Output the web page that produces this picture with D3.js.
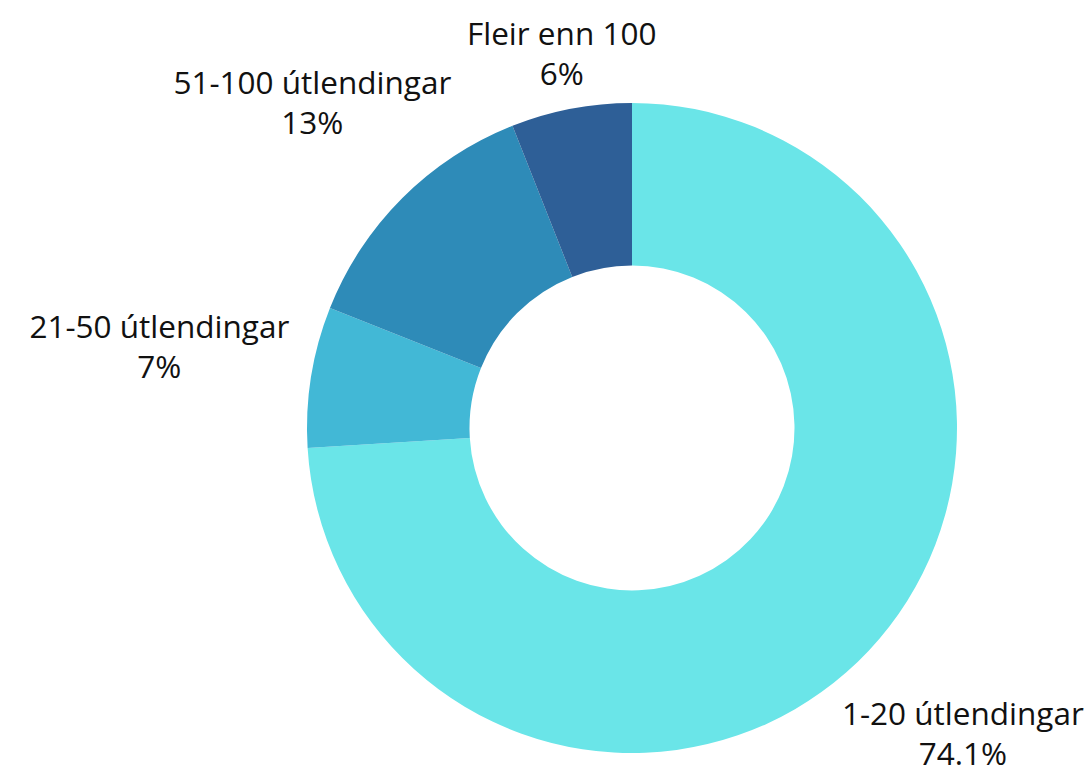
<!DOCTYPE html>
<html>
<head>
<meta charset="utf-8">
<script src="https://cdn.jsdelivr.net/npm/d3@7"></script>
<style>
	body { margin: 0; background: #fff; }
	svg text { font-family: 'Open Sans', sans-serif; }
</style>
</head>
<body>
<svg id="chart" width="1088" height="774"></svg>
<script>
const categories = ['1-20 útlendingar', '21-50 útlendingar', '51-100 útlendingar', 'Fleir enn 100']
const values = [74.1, 7, 13, 6]
const percentLabels = ['74.1%', '7%', '13%', '6%']
const colors = ['#6ae5e8', '#42b8d6', '#2e8bb8', '#2e5f97']

const width = 1088, height = 774
const cx = 632, cy = 428
const outerR = 325, innerR = 162.5
const lineH = 40
const textShift = 6
const topLimit = 59, bottomLimit = 744

const data = categories.map((name, i) => ({ name, value: values[i], pct: percentLabels[i] }))

const svg = d3.select('#chart')
const g = svg.append('g').attr('transform', `translate(${cx},${cy})`)

const color = d3.scaleOrdinal().domain(categories).range(colors)
const pie = d3.pie().sort(null).value(d => d.value)
const arc = d3.arc().innerRadius(innerR).outerRadius(outerR)

const arcs = pie(data)

g.selectAll('.slice')
	.data(arcs)
	.enter()
	.append('path')
	.attr('class', 'slice')
	.attr('d', arc)
	.attr('fill', d => color(d.data.name))

// labels sit along the slice mid angle, wider text pushed further out sideways,
// pulled in if they would leave the frame
function labelPos (d) {
	const a = (d.startAngle + d.endAngle) / 2
	const ux = Math.sin(a), uy = -Math.cos(a)
	let r = 425 + 55 * ux * ux
	const y = uy * r
	if (cy + y < topLimit) r = (cy - topLimit) / -uy
	if (cy + y > bottomLimit) r = (bottomLimit - cy) / uy
	return [ux * r, uy * r]
}

const label = g.selectAll('.label')
	.data(arcs)
	.enter()
	.append('text')
	.attr('class', 'label')
	.attr('text-anchor', 'middle')
	.attr('fill', '#111')
	.style('font-size', '31.5px')

label.append('tspan')
	.attr('x', d => labelPos(d)[0])
	.attr('y', d => labelPos(d)[1] - lineH / 2 + textShift)
	.text(d => d.data.name)

label.append('tspan')
	.attr('x', d => labelPos(d)[0])
	.attr('y', d => labelPos(d)[1] + lineH / 2 + textShift)
	.text(d => d.data.pct)
</script>
</body>
</html>
